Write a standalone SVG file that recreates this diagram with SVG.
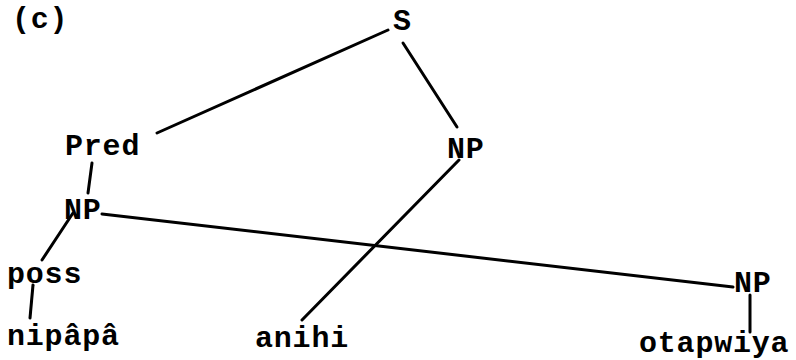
<svg xmlns="http://www.w3.org/2000/svg" width="796" height="360" viewBox="0 0 796 360">
<style>
text{font-family:"Liberation Mono","Courier New",monospace;font-weight:bold;font-size:30px;letter-spacing:0.8px;fill:#000}
.e{stroke:#000;stroke-width:3;stroke-linecap:round;fill:none}
</style>
<rect width="796" height="360" fill="#fff"/>
<text id="label" x="12" y="28">(c)</text>
<g id="connectors">
<line class="e" x1="388" y1="30" x2="157" y2="133"/>
<line class="e" x1="403" y1="43" x2="457" y2="127"/>
<line class="e" x1="92" y1="163" x2="88" y2="193"/>
<line class="e" x1="73" y1="213" x2="42" y2="260"/>
<line class="e" x1="33" y1="285" x2="30" y2="318"/>
<line class="e" x1="102" y1="214" x2="733" y2="287"/>
<line class="e" x1="459" y1="160" x2="302" y2="320"/>
<line class="e" x1="750" y1="295" x2="750" y2="332"/>
</g>
<g id="S"><text x="393" y="30">S</text></g>
<g id="Pred"><text x="65" y="155">Pred</text></g>
<g id="NP1"><text x="447" y="158">NP</text></g>
<g id="NP2"><text x="64" y="219">NP</text></g>
<g id="poss"><text x="7" y="283">poss</text></g>
<g id="nipapa"><text x="7" y="345">nipâpâ</text></g>
<g id="anihi"><text x="255" y="347">anihi</text></g>
<g id="NP3"><text x="734" y="292">NP</text></g>
<g id="otapwiya"><text x="639" y="352">otapwiya</text></g>
</svg>
